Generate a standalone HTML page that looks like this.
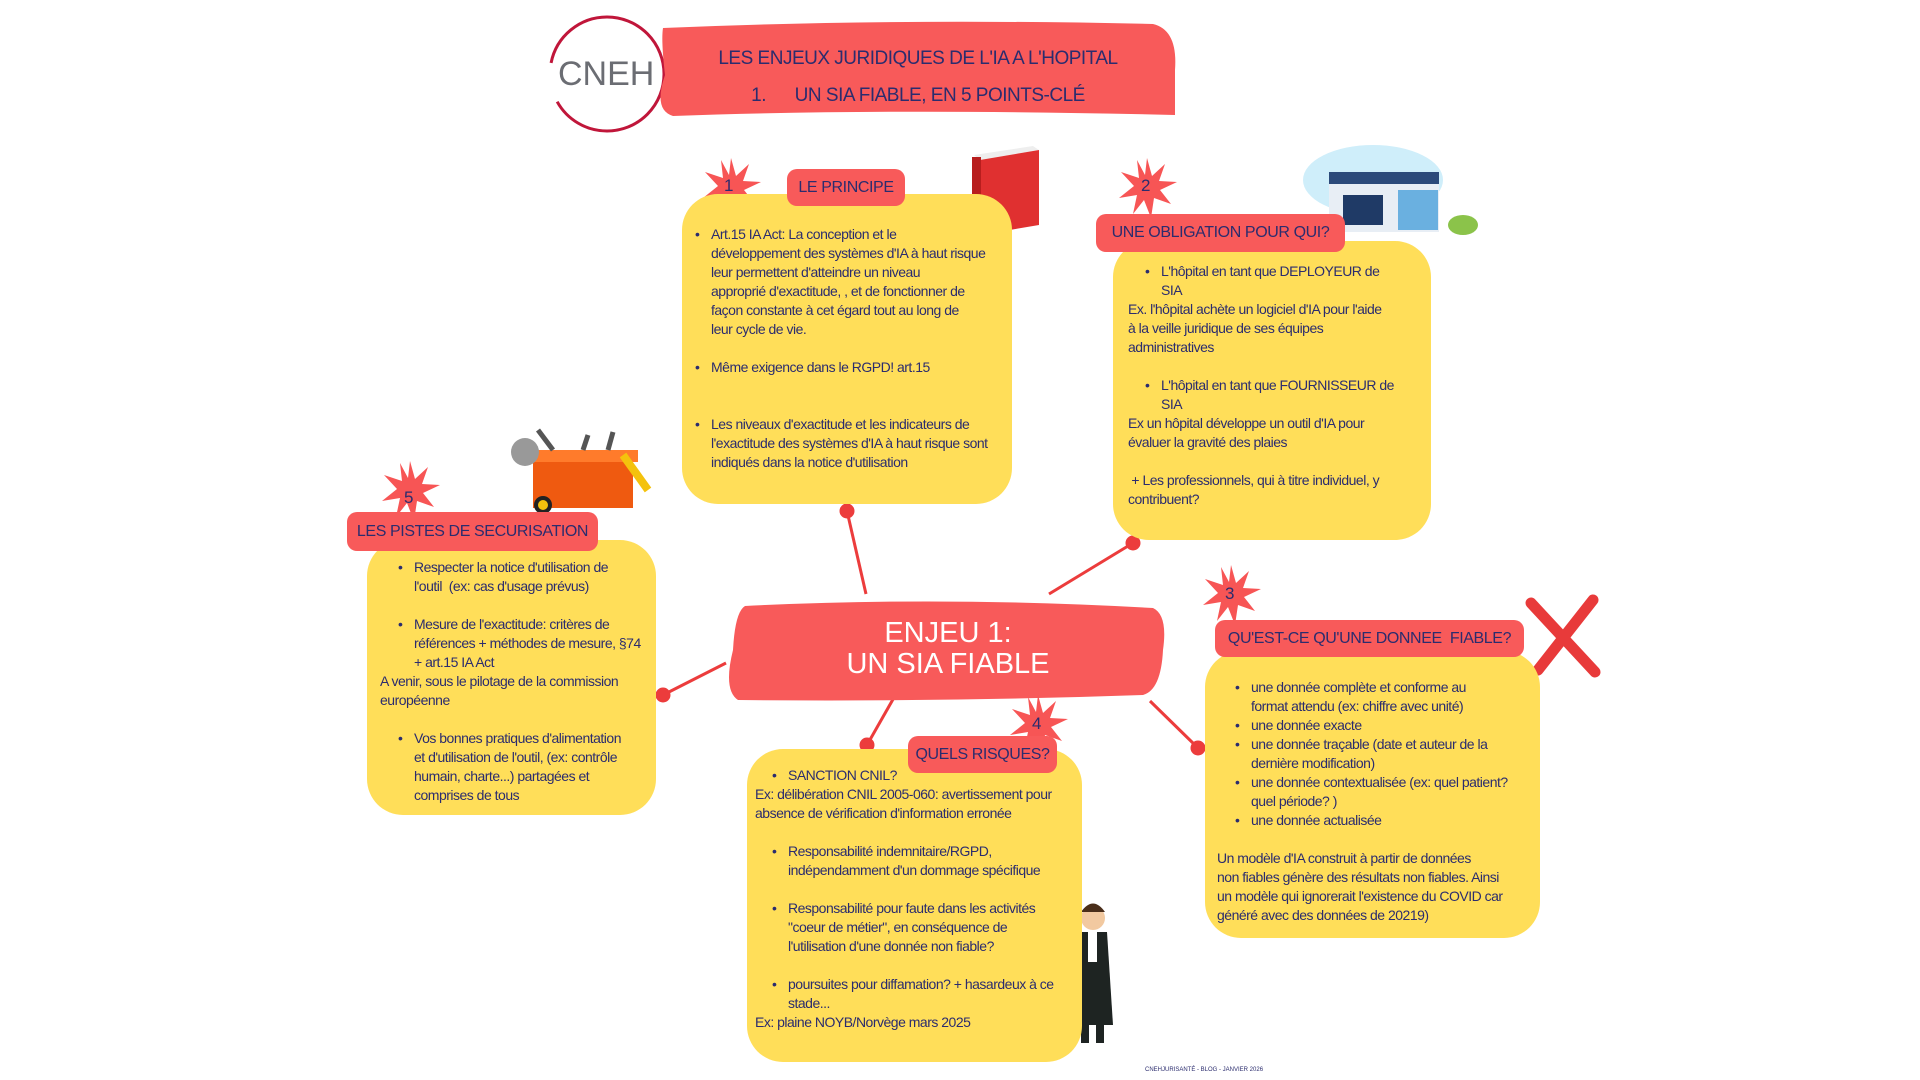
<!DOCTYPE html>
<html><head><meta charset="utf-8"><style>
body{margin:0;width:1920px;height:1080px;background:#fff;position:relative;overflow:hidden;font-family:"Liberation Sans Narrow","Liberation Sans",sans-serif;color:#2b2c6e}
#w{position:absolute;left:-7px;top:0;width:1920px;height:1080px}
.a{position:absolute}
.y{position:absolute;background:#ffde59;border-radius:36px}
.r{position:absolute;background:#f85a5a;border-radius:10px;color:#2b2c6e;font-size:16px;letter-spacing:-0.4px;display:flex;align-items:center;justify-content:center;white-space:nowrap}
.t{position:absolute;font-size:14px;line-height:19px;letter-spacing:-0.5px;white-space:nowrap}
.t p{margin:0}
.b{padding-left:16px;position:relative}
.b:before{content:"•";position:absolute;left:0}
</style></head><body><div id="w">
<svg class="a" style="left:0;top:0" width="1920" height="1080">
<defs><polygon id="st" points="0,-30 5,-12 18,-24 12,-7 30,-6 13,2 24,16 7,10 4,30 -3,12 -14,26 -10,7 -28,10 -13,-2 -26,-16 -8,-10 -10,-28 -2,-13"/></defs>
<circle cx="614" cy="74" r="57" fill="none" stroke="#c0163a" stroke-width="3" stroke-dasharray="150 40 200 30"/>
<path d="M670,28 Q900,18 1160,24 Q1185,30 1182,70 L1182,115 Q900,108 680,116 Q660,110 672,75 Q668,40 670,28Z" fill="#f85a5a"/>
<g stroke="#ec3c3c" stroke-width="3" fill="#ec3c3c">
<line x1="854" y1="511" x2="873" y2="594"/><circle cx="854" cy="511" r="6"/>
<line x1="1140" y1="543" x2="1056" y2="594"/><circle cx="1140" cy="543" r="6"/>
<line x1="670" y1="695" x2="733" y2="663"/><circle cx="670" cy="695" r="6"/>
<line x1="903" y1="694" x2="874" y2="745"/><circle cx="874" cy="745" r="6"/>
<line x1="1157" y1="701" x2="1205" y2="748"/><circle cx="1205" cy="748" r="6"/>
</g>
<path d="M752,606 Q950,596 1160,608 Q1175,615 1170,650 Q1168,690 1150,695 Q950,702 745,700 Q730,690 740,650 Q742,612 752,606Z" fill="#f85a5a"/>
<g fill="#f75555">
<use href="#st" x="738" y="188"/><use href="#st" x="1154" y="188"/><use href="#st" x="417" y="491"/><use href="#st" x="1238" y="595"/><use href="#st" x="1045" y="725"/>
</g>
<polygon points="981,155 1040,146 1046,150 987,160" fill="#eee"/>
<polygon points="987,160 1046,150 1046,225 987,235" fill="#e03030"/>
<rect x="979" y="157" width="9" height="78" fill="#b81e1e"/>
<ellipse cx="1380" cy="180" rx="70" ry="35" fill="#cfeefa"/>
<rect x="1336" y="180" width="110" height="52" fill="#e8eef5"/><rect x="1336" y="172" width="110" height="12" fill="#2c4a7a"/>
<rect x="1405" y="190" width="40" height="40" fill="#6ab0e0"/><rect x="1350" y="195" width="40" height="30" fill="#1f3a66"/>
<ellipse cx="1470" cy="225" rx="15" ry="10" fill="#8bc34a"/>
<rect x="540" y="458" width="100" height="50" fill="#ef5a10"/><rect x="535" y="450" width="110" height="12" fill="#ff7b2b"/>
<g stroke="#555" stroke-width="5"><line x1="560" y1="450" x2="545" y2="430"/><line x1="590" y1="450" x2="595" y2="435"/><line x1="615" y1="450" x2="620" y2="432"/></g>
<circle cx="532" cy="452" r="14" fill="#999"/><line x1="630" y1="455" x2="655" y2="490" stroke="#f4c20d" stroke-width="8"/>
<circle cx="550" cy="505" r="9" fill="#222"/><circle cx="550" cy="505" r="5" fill="#f4c20d"/>
<g stroke="#e83a3a" stroke-width="11" stroke-linecap="round"><line x1="1538" y1="603" x2="1602" y2="672"/><line x1="1600" y1="600" x2="1545" y2="670"/></g>
<circle cx="1100" cy="918" r="12" fill="#f2c9a0"/><path d="M1088,912 Q1100,895 1112,912Z" fill="#4a2e1a"/>
<path d="M1086,932 L1114,932 L1120,1025 L1080,1025Z" fill="#1e2422"/><rect x="1095" y="932" width="9" height="30" fill="#fff"/>
<rect x="1088" y="1025" width="8" height="18" fill="#1e2422"/><rect x="1103" y="1025" width="8" height="18" fill="#1e2422"/>
</svg>
<div class="a" style="left:565px;top:55px;font-size:34px;color:#6b6d73;font-family:'Liberation Sans',sans-serif">CNEH</div>
<div class="a" style="left:670px;top:40px;width:510px;text-align:center;font-size:19px;letter-spacing:-0.5px;line-height:37px;color:#2b2c6e">LES ENJEUX JURIDIQUES DE L'IA A L'HOPITAL<br>1.&nbsp;&nbsp;&nbsp;&nbsp;&nbsp; UN SIA FIABLE, EN 5 POINTS-CLÉ</div>
<div class="a" style="left:737px;top:618px;width:436px;text-align:center;font-size:29px;line-height:31px;color:#fff">ENJEU 1:<br>UN SIA FIABLE</div>

<div class="y" style="left:689px;top:194px;width:330px;height:310px"></div>
<div class="r" style="left:794px;top:169px;width:118px;height:37px">LE PRINCIPE</div>
<div class="a" style="left:731px;top:176px;font-size:17px">1</div>
<div class="t" style="left:702px;top:225px">
<p class="b">Art.15 IA Act: La conception et le<br>développement des systèmes d'IA à haut risque<br>leur permettent d'atteindre un niveau<br>approprié d'exactitude, , et de fonctionner de<br>façon constante à cet égard tout au long de<br>leur cycle de vie.</p><br>
<p class="b">Même exigence dans le RGPD! art.15</p><br><br>
<p class="b">Les niveaux d'exactitude et les indicateurs de<br>l'exactitude des systèmes d'IA à haut risque sont<br>indiqués dans la notice d'utilisation</p></div>

<div class="y" style="left:1120px;top:241px;width:318px;height:299px"></div>
<div class="r" style="left:1103px;top:214px;width:249px;height:38px">UNE OBLIGATION POUR QUI?</div>
<div class="a" style="left:1148px;top:176px;font-size:17px">2</div>
<div class="t" style="left:1135px;top:262px">
<p class="b" style="margin-left:17px">L'hôpital en tant que DEPLOYEUR de<br>SIA</p>
<p>Ex. l'hôpital achète un logiciel d'IA pour l'aide<br>à la veille juridique de ses équipes<br>administratives</p><br>
<p class="b" style="margin-left:17px">L'hôpital en tant que FOURNISSEUR de<br>SIA</p>
<p>Ex un hôpital développe un outil d'IA pour<br>évaluer la gravité des plaies</p><br>
<p>&nbsp;+ Les professionnels, qui à titre individuel, y<br>contribuent?</p></div>

<div class="y" style="left:374px;top:540px;width:289px;height:275px"></div>
<div class="r" style="left:354px;top:512px;width:251px;height:39px">LES PISTES DE SECURISATION</div>
<div class="a" style="left:411px;top:488px;font-size:17px">5</div>
<div class="t" style="left:387px;top:558px">
<p class="b" style="margin-left:18px">Respecter la notice d'utilisation de<br>l'outil&nbsp; (ex: cas d'usage prévus)</p><br>
<p class="b" style="margin-left:18px">Mesure de l'exactitude: critères de<br>références + méthodes de mesure, §74<br>+ art.15 IA Act</p>
<p>A venir, sous le pilotage de la commission<br>européenne</p><br>
<p class="b" style="margin-left:18px">Vos bonnes pratiques d'alimentation<br>et d'utilisation de l'outil, (ex: contrôle<br>humain, charte...) partagées et<br>comprises de tous</p></div>

<div class="y" style="left:1212px;top:651px;width:335px;height:287px"></div>
<div class="r" style="left:1222px;top:620px;width:309px;height:37px">QU'EST-CE QU'UNE DONNEE&nbsp; FIABLE?</div>
<div class="a" style="left:1232px;top:584px;font-size:17px">3</div>
<div class="t" style="left:1242px;top:678px">
<p class="b">une donnée complète et conforme au<br>format attendu (ex: chiffre avec unité)</p>
<p class="b">une donnée exacte</p>
<p class="b">une donnée traçable (date et auteur de la<br>dernière modification)</p>
<p class="b">une donnée contextualisée (ex: quel patient?<br>quel période? )</p>
<p class="b">une donnée actualisée</p><br>
<p style="margin-left:-18px">Un modèle d'IA construit à partir de données<br>non fiables génère des résultats non fiables. Ainsi<br>un modèle qui ignorerait l'existence du COVID car<br>généré avec des données de 20219)</p></div>

<div class="y" style="left:754px;top:749px;width:335px;height:313px"></div>
<div class="r" style="left:915px;top:736px;width:149px;height:37px">QUELS RISQUES?</div>
<div class="a" style="left:1039px;top:714px;font-size:17px">4</div>
<div class="t" style="left:762px;top:766px">
<p class="b" style="margin-left:17px">SANCTION CNIL?</p>
<p>Ex: délibération CNIL 2005-060: avertissement pour<br>absence de vérification d'information erronée</p><br>
<p class="b" style="margin-left:17px">Responsabilité indemnitaire/RGPD,<br>indépendamment d'un dommage spécifique</p><br>
<p class="b" style="margin-left:17px">Responsabilité pour faute dans les activités<br>"coeur de métier", en conséquence de<br>l'utilisation d'une donnée non fiable?</p><br>
<p class="b" style="margin-left:17px">poursuites pour diffamation? + hasardeux à ce<br>stade...</p>
<p>Ex: plaine NOYB/Norvège mars 2025</p></div>

<div class="a" style="left:1152px;top:1067px;font-size:6px">CNEHJURISANTÉ - BLOG - JANVIER 2026</div>
</div></body></html>
